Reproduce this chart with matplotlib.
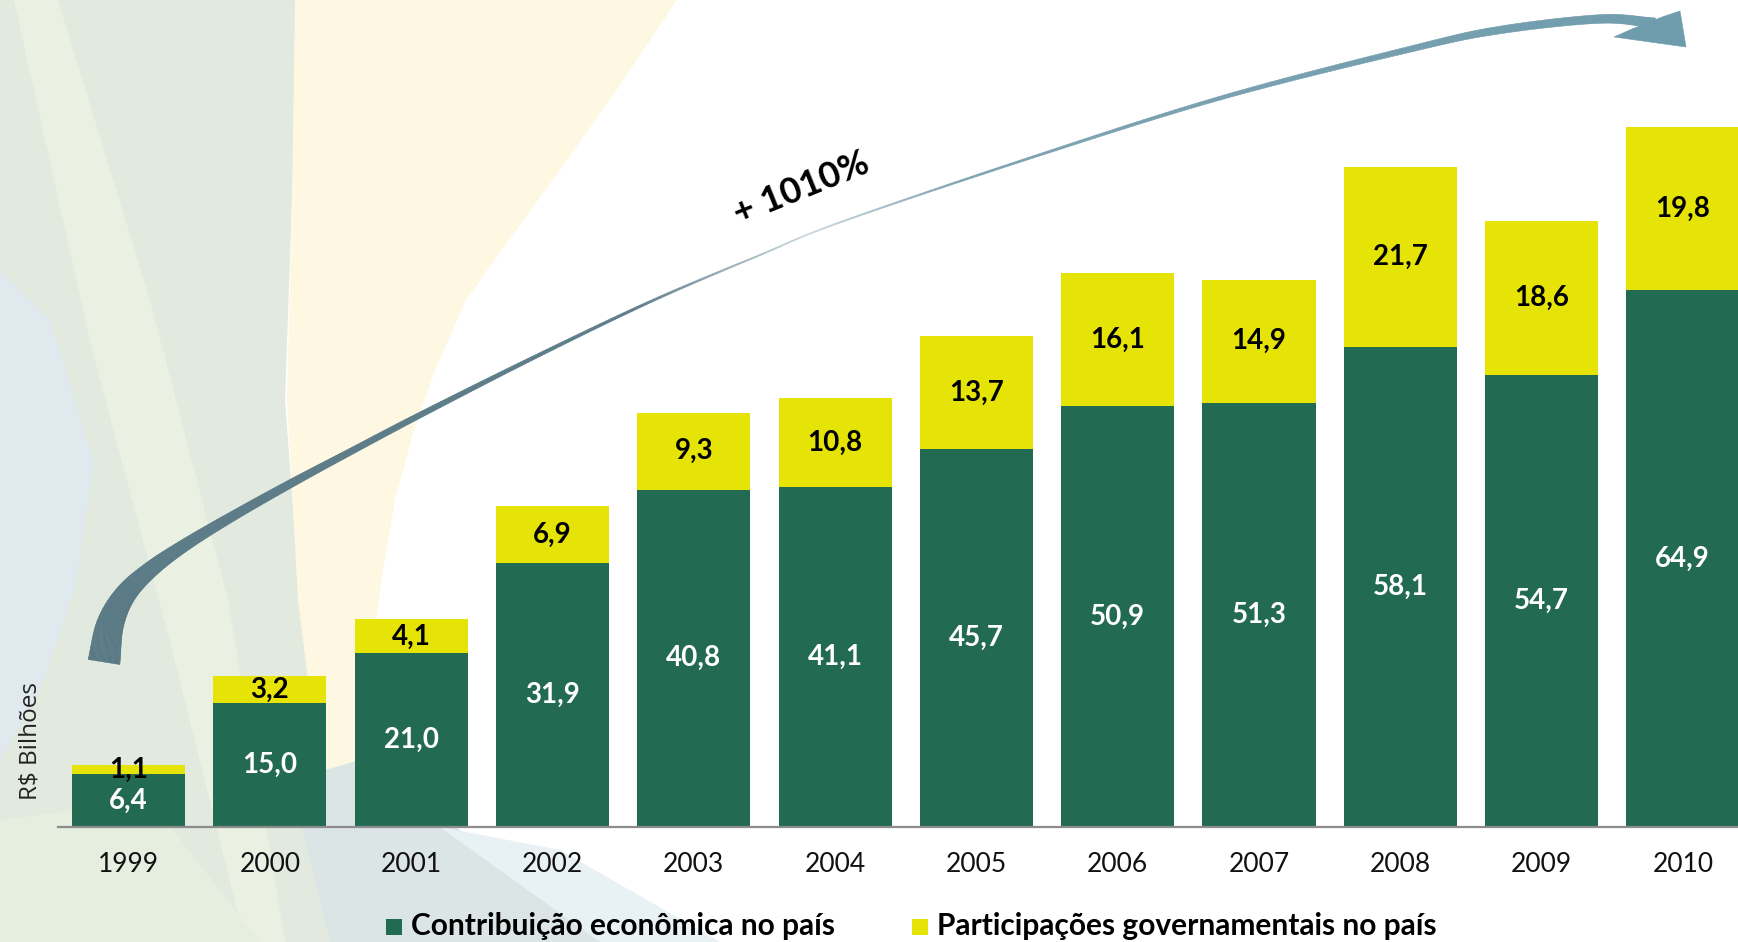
import numpy as np
import matplotlib
matplotlib.use("Agg")
import matplotlib.pyplot as plt
from matplotlib.patches import Polygon, Rectangle
from matplotlib.collections import PolyCollection
from matplotlib.colors import to_rgb

# ---------------- data ----------------
years = ['1999', '2000', '2001', '2002', '2003', '2004',
         '2005', '2006', '2007', '2008', '2009', '2010']
contribuicao = [6.4, 15.0, 21.0, 31.9, 40.8, 41.1, 45.7, 50.9, 51.3, 58.1, 54.7, 64.9]
participacoes = [1.1, 3.2, 4.1, 6.9, 9.3, 10.8, 13.7, 16.1, 14.9, 21.7, 18.6, 19.8]
series_names = ['Contribuição econômica no país', 'Participações governamentais no país']
growth_label = '+ 1010%'
y_label = 'R$ Bilhões'

GREEN = '#236A52'
YELLOW = '#E6E307'
FONT = 'Lato'

W, H = 1738, 942
fig = plt.figure(figsize=(W / 100, H / 100), dpi=100)

# ---------------- decorative background ----------------
bg = fig.add_axes([0, 0, 1, 1], zorder=0)
bg.set_xlim(0, W)
bg.set_ylim(H, 0)
bg.axis('off')
bg_shapes = [
    ([(0, 0), (300, 0), (292, 200), (285, 400), (300, 600), (320, 760), (340, 942), (0, 942)], '#E2E9DF'),
    ([(295, 0), (677, 0), (620, 85), (560, 170), (505, 245), (466, 300), (435, 370), (413, 433),
      (395, 500), (383, 570), (372, 650), (365, 730), (360, 790), (340, 827), (318, 760),
      (298, 600), (287, 400), (292, 200)], '#FEF8E2'),
    ([(14, 0), (58, 0), (150, 300), (228, 600), (285, 942), (245, 942), (172, 650), (92, 350)], '#EAF1E2'),
    ([(0, 270), (50, 320), (94, 462), (75, 590), (40, 690), (0, 760)], '#DFE9EE'),
    ([(290, 780), (360, 760), (460, 830), (640, 942), (330, 942)], '#DCE5E5'),
    ([(440, 827), (560, 850), (720, 942), (600, 942)], '#E8F2F4'),
    ([(0, 820), (150, 800), (260, 942), (0, 942)], '#E6EEDF'),
]
for pts, c in bg_shapes:
    bg.add_patch(Polygon(pts, closed=True, fc=c, ec='none'))

# ---------------- main chart ----------------
ax = fig.add_axes([58 / W, 115 / H, 1 - 58 / W, 827 / H], zorder=1)
ax.patch.set_visible(False)
idx = np.arange(len(years))
b1 = ax.bar(idx, contribuicao, 0.8, color=GREEN, label=series_names[0])
b2 = ax.bar(idx, participacoes, 0.8, bottom=contribuicao, color=YELLOW, label=series_names[1])
ax.set_xlim(-0.5, 11.39)
ax.set_ylim(0, 100)
for s in ['top', 'right', 'left']:
    ax.spines[s].set_visible(False)
ax.spines['bottom'].set_color('#8C8C8C')
ax.spines['bottom'].set_linewidth(1.6)
ax.set_yticks([])
ax.set_xticks(idx)
ax.set_xticklabels(years, fontsize=19, family=FONT)
ax.tick_params(axis='x', length=0, pad=18, colors='#111111')

fmt = lambda v: f"{v:.1f}".replace('.', ',')
ax.bar_label(b1, labels=[fmt(v) for v in contribuicao], label_type='center',
             color='white', fontsize=20, fontweight='bold', family=FONT)
ax.bar_label(b2, labels=[fmt(v) for v in participacoes], label_type='center',
             color='black', fontsize=20, fontweight='bold', family=FONT)

ax.set_ylabel(y_label, fontsize=17.5, family='Open Sans', va='center', color='#222222')
ax.yaxis.set_label_coords(-27 / 1680, (827 - 741) / 827)

# ---------------- overlay: arrow, annotation, legend ----------------
ov = fig.add_axes([0, 0, 1, 1], zorder=3)
ov.patch.set_visible(False)
ov.set_xlim(0, W)
ov.set_ylim(H, 0)
ov.axis('off')


def catmull_rom(P, n=40):
    P = np.asarray(P, float)
    P = np.vstack([2 * P[0] - P[1], P, 2 * P[-1] - P[-2]])
    out = []
    for i in range(1, len(P) - 2):
        p0, p1, p2, p3 = P[i - 1], P[i], P[i + 1], P[i + 2]
        t = np.linspace(0, 1, n, endpoint=False)[:, None]
        seg = 0.5 * ((2 * p1) + (-p0 + p2) * t + (2 * p0 - 5 * p1 + 4 * p2 - p3) * t ** 2
                     + (-p0 + 3 * p1 - 3 * p2 + p3) * t ** 3)
        out.append(seg)
    out.append(P[-2][None, :])
    return np.vstack(out)


# centre line (x, y) and width of the decorative growth arrow, in pixels
arrow_path = [(104, 662, 32), (110, 625, 27), (125, 595, 21), (150, 570, 16), (185, 545, 12),
              (233, 516, 9.5), (290, 484, 8), (348, 453, 6.5), (424, 413, 5.5), (539, 355, 3.5),
              (654, 300, 2.2), (760, 255, 1.2), (841, 222, 1.2), (1033, 157, 2.2),
              (1224, 97, 3.8), (1415, 48, 6), (1500, 30, 7.5), (1600, 19, 8.5), (1655, 23, 10)]
cr = catmull_rom(arrow_path, 40)
c = cr[:, :2]
w = np.clip(cr[:, 2], 0.9, None)
d = np.gradient(c, axis=0)
d /= np.linalg.norm(d, axis=1)[:, None]
nrm = np.column_stack([-d[:, 1], d[:, 0]])
L = c + nrm * w[:, None] / 2
R = c - nrm * w[:, None] / 2
seglen = np.r_[0, np.cumsum(np.linalg.norm(np.diff(c, axis=0), axis=1))]
tt = seglen / seglen[-1]
stops_t = [0, 0.38, 0.49, 0.58, 1.0]
stops_c = np.array([to_rgb(x) for x in ['#587985', '#5E7D8A', '#C9D7DD', '#7EA3B2', '#6F9CAD']])
cols = np.column_stack([np.interp(tt, stops_t, stops_c[:, k]) for k in range(3)])
quads = [[L[i], L[i + 1], R[i + 1], R[i]] for i in range(len(c) - 1)]
qc = cols[:-1]
ov.add_collection(PolyCollection(quads, facecolors=qc, edgecolors=qc, linewidths=0.4))
ov.add_patch(Polygon([(1662, 17), (1680, 11), (1686, 47), (1614, 37), (1632, 29)],
                     closed=True, fc='#6F9CAD', ec='#6F9CAD', lw=0.4))

ov.text(801, 188, growth_label, rotation=22, rotation_mode='anchor', ha='center', va='center',
        fontsize=26, fontweight='bold', family=FONT, color='black')

# legend
ov.add_patch(Rectangle((386, 919), 16, 16, fc=GREEN, ec='none'))
ov.text(411, 935, series_names[0], fontsize=21.5, fontweight='bold', family=FONT,
        va='baseline', ha='left', color='black')
ov.add_patch(Rectangle((912, 919), 16, 16, fc=YELLOW, ec='none'))
ov.text(937, 935, series_names[1], fontsize=21.5, fontweight='bold', family=FONT,
        va='baseline', ha='left', color='black')

fig.savefig('out.png', dpi=100)
